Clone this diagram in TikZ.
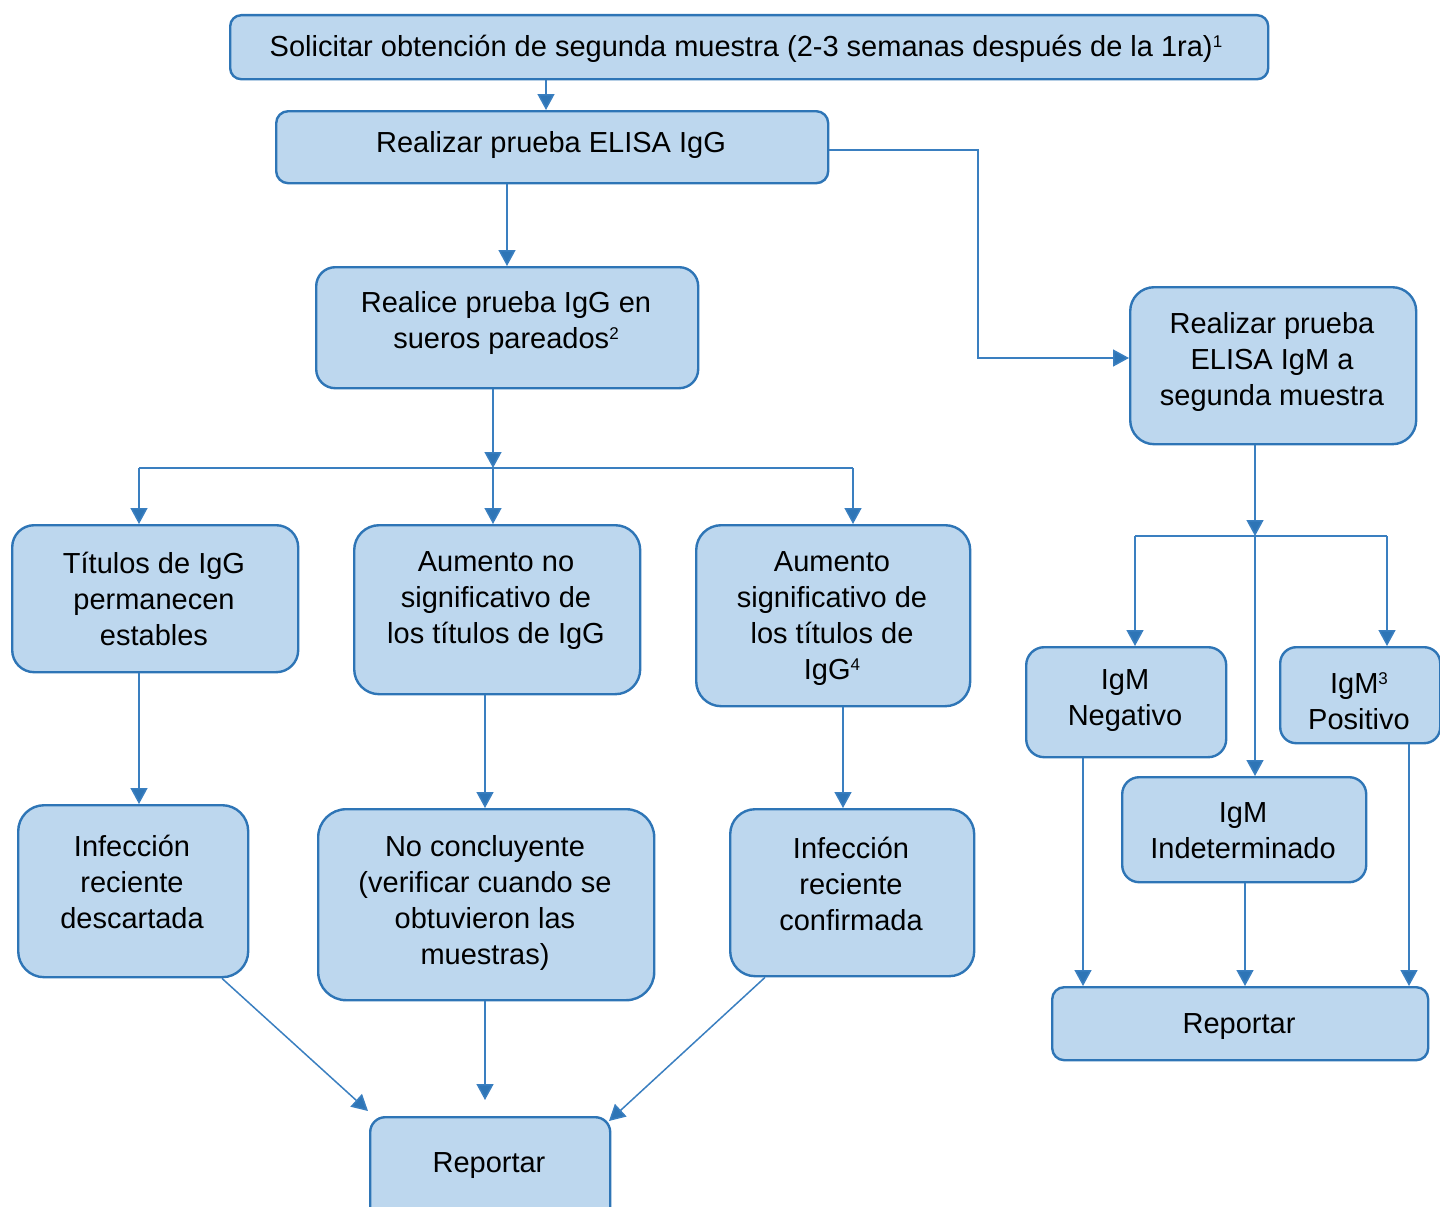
\documentclass[tikz,border=0pt]{standalone}
\usepackage{fontspec}
\setmainfont{Liberation Sans}
\usetikzlibrary{arrows.meta,calc}
\definecolor{fillc}{HTML}{BDD7EE}
\definecolor{bordc}{HTML}{2E75B6}
\definecolor{linec}{HTML}{3A7FC0}
\newcommand{\supr}[1]{\raisebox{9pt}{\fontsize{17}{17}\selectfont #1}}
\tikzset{
  box/.style={draw=bordc, fill=fillc, line width=2.4pt, rounded corners=#1, inner sep=0pt, anchor=north west},
  txt/.style={align=center, inner sep=0pt, yshift=-3pt, font=\fontsize{29}{36}\selectfont, text=black},
  conn/.style={draw=linec, line width=1.5pt},
  arr/.style={conn, -{Triangle[length=16pt,width=17pt,fill=bordc]}},
}
\begin{document}
\begin{tikzpicture}[x=1pt,y=-1pt]
\useasboundingbox (0,0) rectangle (1440,1207);
% boxes
\node[box=11pt, minimum width=1038pt, minimum height=64pt] (b1) at (229,14) {};
\node[box=12pt, minimum width=552pt, minimum height=72pt] (b2) at (275,110) {};
\node[box=19pt, minimum width=382pt, minimum height=121pt] (b3) at (315,266) {};
\node[box=24pt, minimum width=286pt, minimum height=157pt] (b4) at (1129,286) {};
\node[box=22pt, minimum width=286pt, minimum height=147pt] (b5) at (11,524) {};
\node[box=25pt, minimum width=286pt, minimum height=169pt] (b6) at (353,524) {};
\node[box=25pt, minimum width=274pt, minimum height=181pt] (b7) at (695,524) {};
\node[box=18pt, minimum width=200pt, minimum height=110pt] (b8) at (1025,646) {};
\node[box=16pt, minimum width=160pt, minimum height=96pt] (b9) at (1279,646) {};
\node[box=17pt, minimum width=244pt, minimum height=105pt] (b10) at (1121,776) {};
\node[box=26pt, minimum width=230pt, minimum height=172pt] (b11) at (17,804) {};
\node[box=28pt, minimum width=336pt, minimum height=191pt] (b12) at (317,808) {};
\node[box=25pt, minimum width=244pt, minimum height=167pt] (b13) at (729,808) {};
\node[box=12pt, minimum width=376pt, minimum height=73pt] (b14) at (1051,986) {};
\node[box=15pt, minimum width=240pt, minimum height=110pt] (b15) at (369,1116) {};
% texts
\node[txt] (t1) at (746,46) {Solicitar obtención de segunda muestra (2-3 semanas después de la 1ra)\supr{1}};
\node[txt] (t2) at (551,142) {Realizar prueba ELISA IgG};
\node[txt] (t3) at (506,320) {Realice prueba IgG en\\sueros pareados\supr{2}};
\node[txt] (t4) at (1272,359) {Realizar prueba\\ELISA IgM a\\segunda muestra};
\node[txt] (t5) at (154,596) {Títulos de IgG\\permanecen\\estables};
\node[txt] (t6) at (496,598) {Aumento no\\significativo de\\los títulos de IgG};
\node[txt] (t7) at (832,616) {Aumento\\significativo de\\los títulos de\\IgG\supr{4}};
\node[txt] (t8) at (1125,698) {IgM\\Negativo};
\node[txt] (t9) at (1359,698) {IgM\supr{3}\\Positivo};
\node[txt] (t10) at (1243,828) {IgM\\Indeterminado};
\node[txt] (t11) at (132,879) {Infección\\reciente\\descartada};
\node[txt] (t12) at (485,900) {No concluyente\\(verificar cuando se\\obtuvieron las\\muestras)};
\node[txt] (t13) at (851,881) {Infección\\reciente\\confirmada};
\node[txt] (t14) at (1239,1024) {Reportar};
\node[txt] (t15) at (489,1163) {Reportar};
% junctions and free ends
\coordinate (j1) at (493,468);
\coordinate (j1L) at (139,468);
\coordinate (j1R) at (853,468);
\coordinate (j2) at (1255,536);
\coordinate (j2L) at (1135,536);
\coordinate (j2R) at (1387,536);
\coordinate (e11) at (368,1111);
\coordinate (e12) at (485,1100);
\coordinate (e13) at (609,1121);
% connectors
\draw[arr] (546,0 |- b1.south) -- (546,0 |- b2.north);
\draw[arr] (507,0 |- b2.south) -- (507,0 |- b3.north);
\draw[arr] (b2.east |- 0,150) -- (978,150) |- (b4.west |- 0,358);
\draw[arr] (493,0 |- b3.south) -- (j1);
\draw[conn] (j1L) -- (j1R);
\draw[arr] (j1L) -- (139,0 |- b5.north);
\draw[arr] (j1) -- (493,0 |- b6.north);
\draw[arr] (j1R) -- (853,0 |- b7.north);
\draw[arr] (139,0 |- b5.south) -- (139,0 |- b11.north);
\draw[arr] (485,0 |- b6.south) -- (485,0 |- b12.north);
\draw[arr] (843,0 |- b7.south) -- (843,0 |- b13.north);
\draw[arr] (222,0 |- b11.south) -- (e11);
\draw[arr] (485,0 |- b12.south) -- (e12);
\draw[arr] (765,0 |- b13.south) -- (e13);
\draw[arr] (1255,0 |- b4.south) -- (j2);
\draw[conn] (j2L) -- (j2R);
\draw[arr] (j2L) -- (1135,0 |- b8.north);
\draw[arr] (j2R) -- (1387,0 |- b9.north);
\draw[arr] (j2) -- (1255,0 |- b10.north);
\draw[arr] (1083,0 |- b8.south) -- (1083,0 |- b14.north);
\draw[arr] (1245,0 |- b10.south) -- (1245,0 |- b14.north);
\draw[arr] (1409,0 |- b9.south) -- (1409,0 |- b14.north);
\end{tikzpicture}
\end{document}
